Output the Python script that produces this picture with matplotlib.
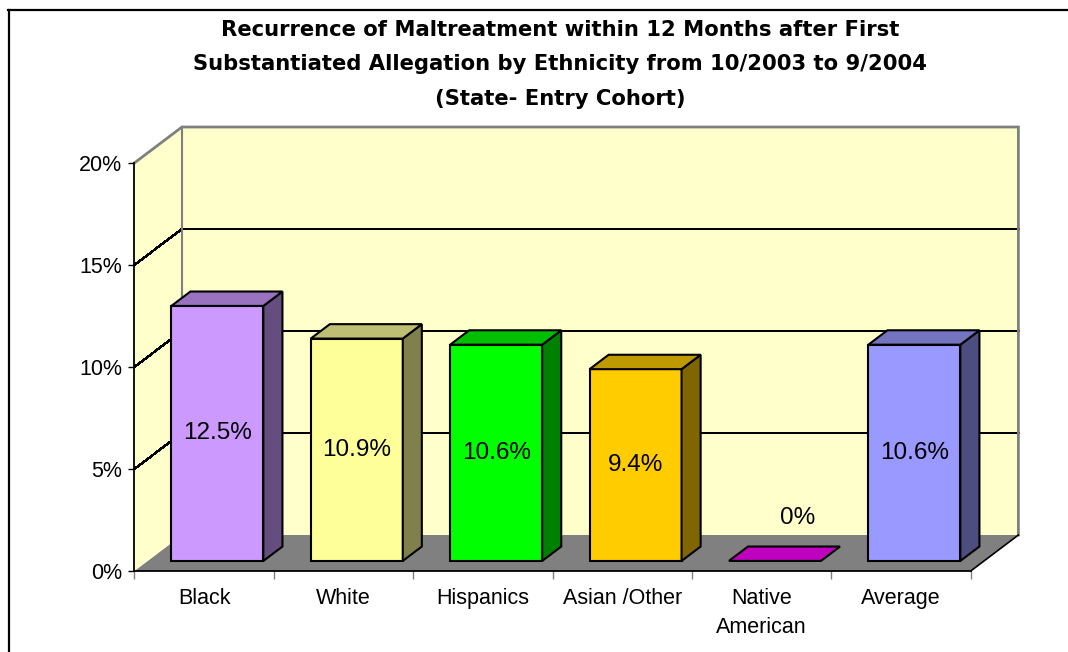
import numpy as np
import matplotlib
matplotlib.use("Agg")
import matplotlib.pyplot as plt
from matplotlib.patches import Polygon
from matplotlib.lines import Line2D
from matplotlib.colors import to_rgb

plt.rcParams["font.family"] = ["Liberation Sans", "DejaVu Sans"]

# ---------------- data ----------------
categories = ["Black", "White", "Hispanics", "Asian /Other", "Native\nAmerican", "Average"]
values = [12.5, 10.9, 10.6, 9.4, 0.0, 10.6]
front_colors = ["#CC99FF", "#FFFF99", "#00FF00", "#FFCC00", "#FF00FF", "#9999FF"]
yticks = [0, 5, 10, 15, 20]
ytick_labels = ["0%", "5%", "10%", "15%", "20%"]
title_lines = ["Recurrence of Maltreatment within 12 Months after First",
               "Substantiated Allegation by Ethnicity from 10/2003 to 9/2004",
               "(State- Entry Cohort)"]

# ---------------- layout ----------------
W, H = 1068, 652
fig = plt.figure(figsize=(W / 100, H / 100), dpi=100)
fig.patch.set_facecolor("white")

x0_px, y0_px = 134.3, 571.0
slot_px = 139.4
unit_px = 20.4
n = len(categories)
ymax = 20
ax = fig.add_axes([x0_px / W, (H - y0_px) / H, n * slot_px / W, ymax * unit_px / H])
ax.set_xlim(0, n)
ax.set_ylim(0, ymax)
ax.set_facecolor("none")

DX = 47.7 / slot_px      # depth offset in category units
DY = 36.0 / unit_px      # depth offset in percent units
z0, z1 = 0.28, 0.68      # bar depth range
bw = 0.66                # bar width


def P(x, v, z):
    return (x + z * DX, v + z * DY)


def poly(pts, fc, ec="none", lw=0.0, zorder=1):
    p = Polygon(pts, closed=True, facecolor=fc, edgecolor=ec, linewidth=lw,
                clip_on=False, zorder=zorder, joinstyle="miter")
    ax.add_patch(p)


wall = "#FFFFCC"
edge_gray = "#808080"
# floor
poly([P(0, 0, 0), P(n, 0, 0), P(n, 0, 1), P(0, 0, 1)], "#808080", zorder=1)
# back wall
poly([P(0, 0, 1), P(n, 0, 1), P(n, ymax, 1), P(0, ymax, 1)], wall, zorder=1)
# left side wall
poly([P(0, 0, 0), P(0, ymax, 0), P(0, ymax, 1), P(0, 0, 1)], wall, zorder=1)

# gridlines on walls
for t in yticks[1:-1]:
    xs, ys = zip(P(0, t, 0), P(0, t, 1), P(n, t, 1))
    ax.add_line(Line2D(xs, ys, color="black", lw=1.0, clip_on=False, zorder=2,
                       antialiased=False))

# wall edges (gray)
xs, ys = zip(P(0, ymax, 0), P(0, ymax, 1), P(n, ymax, 1), P(n, 0, 1))
ax.add_line(Line2D(xs, ys, color=edge_gray, lw=2.0, clip_on=False, zorder=2,
                   solid_joinstyle="miter"))
xs, ys = zip(P(0, ymax, 1), P(0, 0, 1))
ax.add_line(Line2D(xs, ys, color=edge_gray, lw=1.5, clip_on=False, zorder=2))
# floor right edge
xs, ys = zip(P(n, 0, 0), P(n, 0, 1))
ax.add_line(Line2D(xs, ys, color="black", lw=1.2, clip_on=False, zorder=2))

# bars
for i, (v, c) in enumerate(zip(values, front_colors)):
    rgb = np.array(to_rgb(c))
    top_c = rgb * 0.75
    side_c = rgb * 0.5
    xl = i + (1 - bw) / 2
    xr = xl + bw
    if v > 0:
        poly([P(xl, 0, z0), P(xr, 0, z0), P(xr, v, z0), P(xl, v, z0)], rgb,
             ec="black", lw=1.5, zorder=5)
        poly([P(xr, 0, z0), P(xr, 0, z1), P(xr, v, z1), P(xr, v, z0)], side_c,
             ec="black", lw=1.5, zorder=5)
    poly([P(xl, v, z0), P(xr, v, z0), P(xr, v, z1), P(xl, v, z1)], top_c,
         ec="black", lw=1.5, zorder=5)
    label = f"{v:g}%"
    cx, cy = P((xl + xr) / 2, v / 2, z0)
    if v > 0:
        ax.text(cx, cy, label, ha="center", va="center", fontsize=17.5,
                color="black", zorder=6)
    else:
        ax.annotate(label, (cx, cy), xytext=(16, 31), textcoords="offset points",
                    ha="center", va="center", fontsize=17.5, color="black",
                    zorder=6, annotation_clip=False)

# axes styling
for s in ["top", "right"]:
    ax.spines[s].set_visible(False)
ax.spines["left"].set_color("black")
ax.spines["left"].set_linewidth(1.3)
ax.spines["bottom"].set_color("black")
ax.spines["bottom"].set_linewidth(1.3)
ax.spines["left"].set_zorder(3)
ax.spines["bottom"].set_zorder(3)

ax.set_yticks(yticks)
ax.set_yticklabels(ytick_labels, fontsize=15.5)
ax.tick_params(axis="y", direction="out", length=4.5, width=1.0, pad=4,
               color="black")
ax.set_xticks(np.arange(0, n + 1))
ax.set_xticklabels([])
ax.tick_params(axis="x", which="major", direction="out", length=5.5, width=1.0,
               color="#808080")
ax.set_xticks(np.arange(n) + 0.5, minor=True)
ax.set_xticklabels(categories, minor=True, fontsize=15.5, linespacing=1.5, va="top")
ax.tick_params(axis="x", which="minor", length=0, pad=12)

# title (three centred lines)
for line, ypx in zip(title_lines, [30, 64.5, 99]):
    fig.text(560 / W, 1 - ypx / H, line, ha="center", va="center", fontsize=15.2,
             fontweight="bold", family="DejaVu Sans")

# outer border (left and top)
fig.add_artist(Line2D([9 / W, 9 / W], [0, 1 - 10 / H], transform=fig.transFigure,
                      color="black", lw=1.6))
fig.add_artist(Line2D([8 / W, 1], [1 - 10 / H, 1 - 10 / H], transform=fig.transFigure,
                      color="black", lw=1.6))

fig.savefig("out.png", dpi=100)
